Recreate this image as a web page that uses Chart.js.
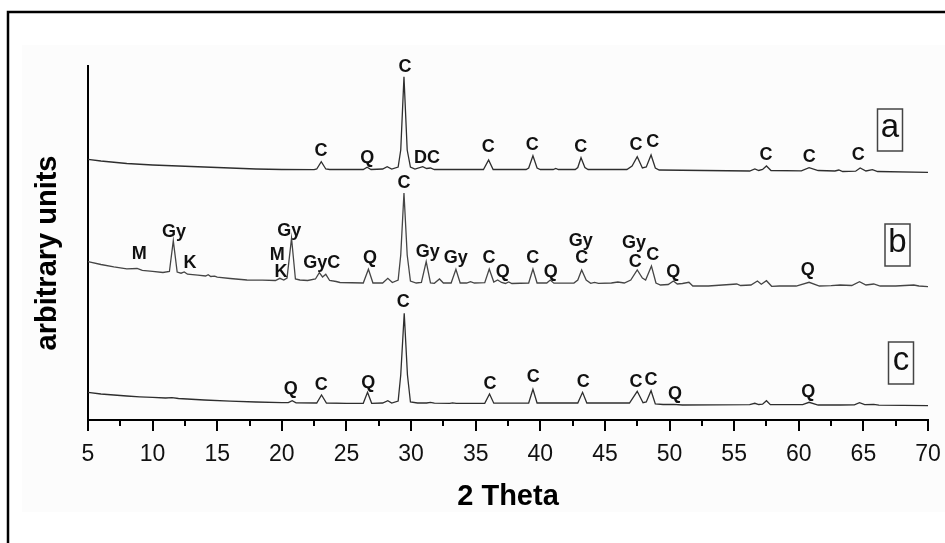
<!DOCTYPE html>
<html>
<head>
<meta charset="utf-8">
<title>XRD patterns</title>
<script src="https://cdn.jsdelivr.net/npm/chart.js@4.4.1/dist/chart.umd.min.js"></script>
<style>
    html, body { margin: 0; padding: 0; background: #fff; }
    #wrap { width: 945px; height: 543px; position: relative; }
</style>
</head>
<body>
<div id="wrap"><canvas id="xrdChart" width="945" height="543"></canvas></div>
<script>
// 2 Theta axis
const xTickValues = [5, 10, 15, 20, 25, 30, 35, 40, 45, 50, 55, 60, 65, 70];
const xMinorTicks = [7.5, 12.5, 17.5, 22.5, 27.5, 32.5, 37.5, 42.5, 47.5, 52.5, 57.5, 62.5, 67.5];

// Sample a: [2theta, intensity] (offset stacked, arbitrary units)
const traceA = [
    [5, 260.7], [6, 259], [8, 256.5], [10, 255], [12, 254], [14, 253], [16, 252], [18, 251],
    [20, 250.5], [22.5, 250.3], [22.7, 251], [23.05, 258.3], [23.4, 251], [23.7, 250.5],
    [26.3, 250.5], [26.6, 252.7], [26.9, 250.5], [27.8, 251], [28.15, 253.3], [28.5, 251],
    [29.0, 253], [29.2, 270], [29.45, 343.3], [29.7, 270], [29.95, 253], [30.3, 251],
    [30.9, 253.3], [31.2, 251.5], [31.5, 252], [31.8, 250.5], [35.6, 250.5], [36.0, 260],
    [36.35, 250.5], [38.9, 250.5], [39.1, 252], [39.43, 264.3], [39.75, 252], [40.0, 250.5],
    [41.0, 250.5], [41.2, 251.5], [41.4, 250.5], [42.7, 250.5], [42.9, 252.5], [43.15, 262.3],
    [43.45, 252.5], [43.7, 250.5], [46.7, 250.5], [47.1, 254], [47.5, 263.3], [47.9, 252],
    [48.2, 253], [48.57, 265], [48.9, 252], [49.2, 250], [56.2, 249], [56.6, 251], [56.9, 249.5],
    [57.2, 250.5], [57.5, 254], [57.85, 249.5], [60.2, 249.2], [60.8, 252.3], [61.5, 249.5],
    [62.8, 249], [63.1, 250], [63.4, 248.5], [64.4, 248.8], [64.75, 252], [65.2, 249],
    [65.7, 250.3], [66.1, 248.5], [70, 247.7]
];

// Sample b
const traceB = [
    [5, 158.3], [6, 155.5], [7, 153.2], [8, 151.2], [8.8, 151.5], [9.2, 149.6], [10, 148.6],
    [10.8, 147.5], [11.3, 148.5], [11.6, 179.3], [11.9, 148], [12.2, 146.8], [12.45, 148],
    [12.7, 145.8], [13.5, 144.8], [14.1, 144], [14.3, 145.3], [14.5, 143.5], [14.8, 143.8],
    [15.0, 142.8], [16, 141.5], [17.3, 140], [18.5, 139.8], [19.5, 139.5], [19.85, 141.7],
    [20.15, 140], [20.4, 142], [20.75, 181.7], [21.05, 141], [21.4, 140], [22.0, 139.5],
    [22.6, 141], [22.9, 147.3], [23.15, 143], [23.4, 145.7], [23.7, 139.5], [24.2, 138.5],
    [24.5, 137.5], [26.3, 137], [26.7, 150.7], [27.05, 137], [27.8, 137], [28.2, 141.7],
    [28.55, 137.5], [29.0, 140], [29.2, 165], [29.45, 227], [29.7, 165], [29.95, 139],
    [30.4, 137], [30.8, 137.5], [31.17, 158.3], [31.5, 137], [31.8, 136.7], [32.2, 141],
    [32.5, 137], [33.1, 137], [33.47, 150.7], [33.8, 137], [34.3, 137], [34.6, 138.3],
    [34.9, 137], [35.7, 137.3], [36.05, 151], [36.4, 138], [36.7, 140], [37.0, 137.5],
    [37.3, 136.5], [37.55, 138], [37.8, 136.5], [39.1, 137], [39.43, 151], [39.75, 137],
    [40.5, 137], [40.77, 140], [41.05, 136.8], [42.6, 137], [42.9, 140], [43.2, 150],
    [43.55, 140], [43.9, 136.7], [44.2, 137.7], [44.5, 136.7], [45.5, 137], [46.0, 138],
    [46.5, 137], [47.0, 140], [47.5, 150], [47.9, 142], [48.15, 140], [48.6, 154],
    [48.95, 137], [49.3, 135], [49.9, 135.5], [50.3, 139], [50.6, 136], [51.0, 136.5],
    [51.5, 137.7], [51.8, 134], [53, 134], [55.2, 136], [55.5, 134.5], [56.3, 135],
    [56.8, 139], [57.1, 135.7], [57.5, 139.3], [57.9, 133.7], [58.5, 134], [59.8, 134],
    [60.8, 137.7], [61.6, 134], [62.5, 134.3], [63.2, 135], [64.1, 134.5], [64.7, 138.3],
    [65.2, 135], [65.8, 136], [66.3, 134], [67.5, 134], [68.9, 135], [69.3, 134], [70, 133.3]
];

// Sample c
const traceC = [
    [5, 27.7], [6, 26], [7, 25], [8, 24], [9, 23.2], [10, 22.6], [11, 22], [11.5, 22.4],
    [12, 21.5], [14, 20], [16, 18.8], [18, 18], [20, 17.3], [20.5, 17.3], [20.8, 19.3],
    [21.1, 17.2], [22.7, 17], [23.07, 25], [23.45, 17], [25, 16.7], [26.3, 16.7],
    [26.63, 27.7], [26.95, 16.7], [27.8, 17], [28.2, 19.3], [28.5, 17], [29.0, 19],
    [29.2, 45], [29.47, 106.7], [29.72, 45], [29.95, 18], [30.5, 17], [31.2, 17],
    [31.5, 17.7], [31.8, 16.8], [33.0, 16.7], [33.2, 17.2], [33.5, 16.7], [35.7, 16.7],
    [36.07, 26], [36.4, 16.8], [39.1, 17], [39.43, 30.7], [39.75, 17], [42.9, 17],
    [43.27, 27.7], [43.6, 17], [46.9, 17], [47.5, 28.7], [47.95, 17.3], [48.2, 18],
    [48.57, 29.3], [48.9, 16], [49.5, 15.5], [50.3, 15.7], [51, 15], [56.2, 15.3],
    [56.6, 16.7], [56.9, 15.5], [57.2, 15.8], [57.5, 19.3], [57.8, 15.3], [60.3, 15.3],
    [60.8, 17.7], [61.5, 15], [63.2, 15], [64.3, 15.2], [64.7, 17.3], [65.1, 15.3],
    [65.8, 15.7], [66.2, 14.8], [70, 14.3]
];

// Phase labels: [text, 2theta, intensity]
const peakLabelsA = [
    ['C', 23.03, 269.3], ['Q', 26.61, 262.3], ['C', 29.53, 352.7], ['DC', 31.23, 261.5],
    ['C', 35.98, 272.7], ['C', 39.38, 275], ['C', 43.13, 273.3], ['C', 47.4, 275],
    ['C', 48.7, 278.3], ['C', 57.46, 265], ['C', 60.81, 262.7], ['C', 64.61, 265]
];
const peakLabelsB = [
    ['M', 8.97, 166], ['Gy', 11.65, 188.3], ['K', 12.89, 157.3], ['M', 19.65, 165],
    ['K', 19.93, 147.7], ['Gy', 20.58, 189.3], ['GyC', 23.08, 157], ['Q', 26.82, 161.7],
    ['C', 29.45, 237.3], ['Gy', 31.29, 168.3], ['Gy', 33.45, 161.7], ['C', 36.03, 161.7],
    ['Q', 37.09, 148.3], ['C', 39.41, 161.7], ['Q', 40.8, 148.3], ['Gy', 43.13, 179.3],
    ['C', 43.2, 161.7], ['Gy', 47.25, 176.7], ['C', 47.35, 158.3], ['C', 48.7, 165],
    ['Q', 50.29, 148.3], ['Q', 60.69, 150]
];
const peakLabelsC = [
    ['Q', 20.69, 30.7], ['C', 23.05, 35], ['Q', 26.69, 36.7], ['C', 29.4, 118.3],
    ['C', 36.11, 35.7], ['C', 39.46, 42.7], ['C', 43.33, 38.3], ['C', 47.4, 38.3],
    ['C', 48.57, 40], ['Q', 50.42, 26], ['Q', 60.74, 27.7]
];

const sampleNames = ['a', 'b', 'c'];

(function() {
    'use strict';

    const FONT = '"Liberation Sans", Arial, sans-serif';

    // sample tag boxes, pixel layout (centre x, centre y)
    const sampleBoxes = [
        { cx: 890, cy: 130 },
        { cx: 897.5, cy: 245 },
        { cx: 901, cy: 363 }
    ];

    const toPoints = arr => arr.map(p => ({ x: p[0], y: p[1] }));

    const backdrop = {
        id: 'backdrop',
        beforeDraw(chart) {
            const ctx = chart.ctx;
            ctx.save();
            ctx.fillStyle = '#ffffff';
            ctx.fillRect(0, 0, chart.width, chart.height);
            ctx.fillStyle = '#fcfcfc';
            ctx.fillRect(22, 45, chart.width - 22, 467);
            ctx.strokeStyle = '#000';
            ctx.lineWidth = 2.5;
            ctx.beginPath();
            ctx.moveTo(8, chart.height);
            ctx.lineTo(8, 12);
            ctx.lineTo(chart.width, 12);
            ctx.stroke();
            ctx.restore();
        }
    };

    const annotations = {
        id: 'annotations',
        afterDraw(chart) {
            const ctx = chart.ctx;
            const xs = chart.scales.x;
            const ys = chart.scales.y;
            ctx.save();

            // minor ticks
            ctx.strokeStyle = '#000';
            ctx.lineWidth = 2;
            xMinorTicks.forEach(v => {
                const px = Math.round(xs.getPixelForValue(v));
                ctx.beginPath();
                ctx.moveTo(px, ys.bottom);
                ctx.lineTo(px, ys.bottom + 6);
                ctx.stroke();
            });

            // phase labels
            ctx.fillStyle = '#111';
            ctx.font = 'bold 18px ' + FONT;
            ctx.textAlign = 'center';
            ctx.textBaseline = 'middle';
            [peakLabelsA, peakLabelsB, peakLabelsC].forEach(list => {
                list.forEach(([txt, tt, inten]) => {
                    ctx.fillText(txt, xs.getPixelForValue(tt), ys.getPixelForValue(inten));
                });
            });

            // sample tags
            ctx.font = '33px ' + FONT;
            ctx.strokeStyle = '#444';
            ctx.lineWidth = 1.5;
            sampleNames.forEach((name, i) => {
                const b = sampleBoxes[i];
                ctx.strokeRect(b.cx - 12.5, b.cy - 21, 25, 42);
                ctx.fillText(name, b.cx, b.cy - 2);
            });

            // y title
            ctx.translate(48, 253);
            ctx.rotate(-Math.PI / 2);
            ctx.fillStyle = '#000';
            ctx.font = 'bold 29px ' + FONT;
            ctx.fillText('arbitrary units', 0, 0);
            ctx.restore();
        }
    };

    const lineStyle = color => ({
        showLine: true,
        borderColor: color,
        borderWidth: 1.3,
        pointRadius: 0,
        tension: 0,
        fill: false
    });

    new Chart(document.getElementById('xrdChart'), {
        type: 'scatter',
        data: {
            datasets: [
                Object.assign({ label: 'a', data: toPoints(traceA) }, lineStyle('#2e2e2e')),
                Object.assign({ label: 'b', data: toPoints(traceB) }, lineStyle('#454545')),
                Object.assign({ label: 'c', data: toPoints(traceC) }, lineStyle('#2e2e2e'))
            ]
        },
        options: {
            responsive: false,
            animation: false,
            events: [],
            layout: { padding: { left: 0, top: 66, right: 17, bottom: 0 } },
            plugins: { legend: { display: false }, tooltip: { enabled: false } },
            scales: {
                x: {
                    type: 'linear',
                    position: 'bottom',
                    min: 5,
                    max: 70,
                    afterBuildTicks: s => { s.ticks = xTickValues.map(v => ({ value: v })); },
                    afterFit: s => {
                        s.height = 123;
                        s.paddingLeft = 0;
                        s.paddingRight = 0;
                    },
                    grid: {
                        display: true,
                        drawOnChartArea: false,
                        tickLength: 11,
                        color: '#000',
                        lineWidth: 2
                    },
                    border: { display: true, color: '#000', width: 2 },
                    ticks: {
                        color: '#111',
                        font: { family: FONT, size: 23 },
                        padding: 10,
                        maxRotation: 0,
                        autoSkip: false
                    },
                    title: {
                        display: true,
                        text: '2 Theta',
                        color: '#000',
                        font: { family: FONT, size: 29, weight: 'bold' },
                        padding: { top: 0, bottom: 28.6 }
                    }
                },
                y: {
                    type: 'linear',
                    min: 0,
                    max: 354,
                    afterFit: s => { s.width = 88; },
                    grid: { display: false },
                    border: { display: true, color: '#000', width: 2 },
                    ticks: { display: false }
                }
            }
        },
        plugins: [backdrop, annotations]
    });
})();
</script>
</body>
</html>
